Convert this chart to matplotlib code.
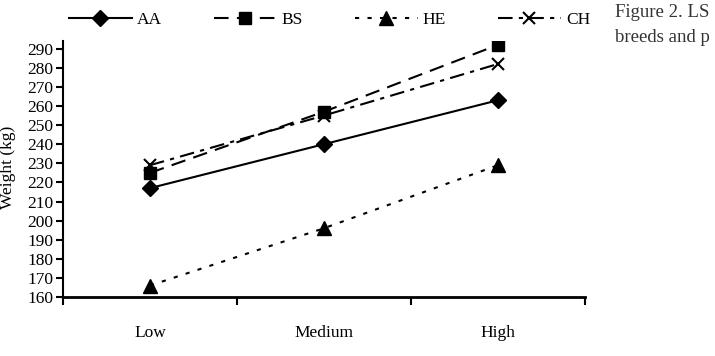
import matplotlib.pyplot as plt
import numpy as np

plt.rcParams["font.family"] = ["Liberation Serif", "DejaVu Serif"]

levels = ["Low", "Medium", "High"]
aa = [217, 240, 263]
bs = [225, 257, 292]
he = [166, 196, 229]
ch = [229, 255, 282]

fig = plt.figure(figsize=(7.15, 3.56), dpi=100)
ax = fig.add_axes([0.0881, 0.1657, 0.730, 0.719])

x = np.arange(len(levels)) + 0.5
ax.plot(x, aa, color="black", lw=1.5, ls="-", marker="D", ms=8, label="AA")
ax.plot(x, bs, color="black", lw=1.5, ls=(0, (7, 4)), marker="s", ms=9, label="BS")
ax.plot(x, he, color="black", lw=1.5, ls=(0, (2, 4)), marker="^", ms=10, label="HE")
ax.plot(x, ch, color="black", lw=1.5, ls=(0, (7, 3, 2, 3)), marker="x", ms=9,
        mew=1.5, label="CH")

ax.set_xlim(0, 3)
ax.set_ylim(160, 294)
ax.set_yticks(np.arange(160, 291, 10))
ax.set_xticks([0, 1, 2, 3])
ax.set_xticklabels([])
ax.set_xticks(x, minor=True)
ax.set_xticklabels(levels, minor=True)
ax.tick_params(axis="x", which="minor", length=0, pad=20, labelsize=12.5)
ax.tick_params(axis="x", which="major", length=6, width=1.5, direction="out")
ax.tick_params(axis="y", length=5, width=1.5, direction="out", labelsize=12.5, pad=2)

for s in ["top", "right"]:
    ax.spines[s].set_visible(False)
ax.spines["left"].set_linewidth(1.5)
ax.spines["bottom"].set_linewidth(2)

fig.legend(loc="center", bbox_to_anchor=(0.461, 0.944), ncol=4, frameon=False,
           fontsize=12.5, handlelength=3.6, columnspacing=3.0, handletextpad=0.3)

fig.text(0.011, 0.53, "Weight (kg)", rotation=90, ha="center", va="center",
         fontsize=12.5)

fig.text(0.860, 0.953, "Figure 2. LS", ha="left", va="baseline",
         fontsize=13.5, color="#333333")
fig.text(0.860, 0.882, "breeds and p", ha="left", va="baseline",
         fontsize=13.5, color="#333333")

fig.savefig("out.png", dpi=100)
